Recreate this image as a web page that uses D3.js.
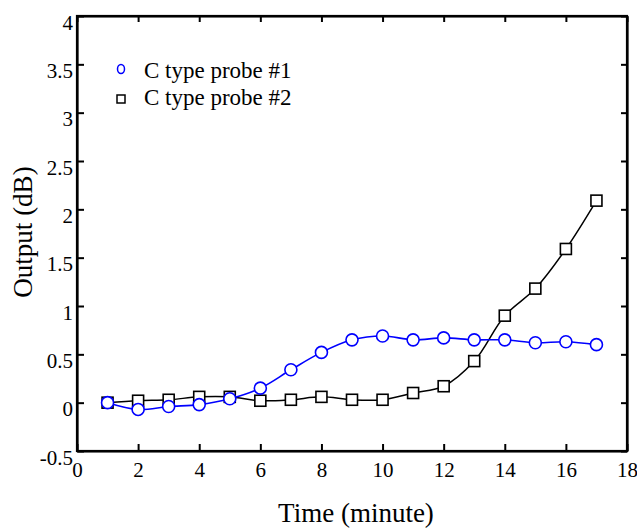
<!DOCTYPE html>
<html>
<head>
<meta charset="utf-8">
<script src="https://cdn.jsdelivr.net/npm/d3@7"></script>
<style>
  html, body { margin: 0; padding: 0; background: #fff; }
  svg { display: block; font-family: "Liberation Serif", "Times New Roman", serif; }
</style>
</head>
<body>
<svg id="chart" width="637" height="529"></svg>
<script>
// Time in minutes
const times = [1, 2, 3, 4, 5, 6, 7, 8, 9, 10, 11, 12, 13, 14, 15, 16, 17];
// Output (dB) for each probe
const probe1 = [0.00, -0.07, -0.04, -0.02, 0.04, 0.15, 0.34, 0.52, 0.65, 0.69, 0.65, 0.67, 0.65, 0.65, 0.62, 0.63, 0.60];
const probe2 = [0.00, 0.02, 0.03, 0.06, 0.06, 0.02, 0.03, 0.06, 0.03, 0.03, 0.10, 0.17, 0.43, 0.90, 1.18, 1.59, 2.09];
const seriesNames = ["C type probe #1", "C type probe #2"];
const xTicks = [0, 2, 4, 6, 8, 10, 12, 14, 16, 18];
const yTicks = [-0.5, 0, 0.5, 1, 1.5, 2, 2.5, 3, 3.5, 4];

const svg = d3.select("#chart");
const plotL = 77, plotR = 627, plotT = 16, plotB = 451;

const x = d3.scaleLinear().domain([0, 18]).range([plotL, plotR]);
const y = d3.scaleLinear().domain([-0.5, 4]).range([plotB, plotT]);

const fmt = d => String(d);

// bottom axis with inward ticks
const gx = svg.append("g").attr("transform", `translate(0,${plotB})`)
  .call(d3.axisBottom(x).tickValues(xTicks).tickSizeInner(-7).tickSizeOuter(0).tickPadding(11).tickFormat(fmt));
// top axis, ticks only
const gxt = svg.append("g").attr("transform", `translate(0,${plotT})`)
  .call(d3.axisTop(x).tickValues(xTicks).tickSizeInner(-6).tickSizeOuter(0).tickFormat(""));
// left axis
const gy = svg.append("g").attr("transform", `translate(${plotL},0)`)
  .call(d3.axisLeft(y).tickValues(yTicks).tickSizeInner(-7).tickSizeOuter(0).tickPadding(4).tickFormat(fmt));
// right axis, ticks only
const gyr = svg.append("g").attr("transform", `translate(${plotR},0)`)
  .call(d3.axisRight(y).tickValues(yTicks).tickSizeInner(-6).tickSizeOuter(0).tickFormat(""));

[gx, gxt, gy, gyr].forEach(g => {
  g.select(".domain").attr("stroke", "#000").attr("stroke-width", 2.2);
  g.selectAll(".tick line").attr("stroke", "#000").attr("stroke-width", 2);
  g.selectAll(".tick text").attr("fill", "#000").attr("font-size", 21)
    .attr("font-family", "Liberation Serif, Times New Roman, serif");
});
gy.selectAll(".tick text").attr("dy", "13");

// plot frame
svg.append("rect").attr("x", plotL).attr("y", plotT).attr("width", plotR - plotL).attr("height", plotB - plotT)
  .attr("fill", "none").attr("stroke", "#000").attr("stroke-width", 2.2);

// axis titles
svg.append("text").attr("x", 356).attr("y", 522).attr("text-anchor", "middle")
  .attr("font-size", 27).text("Time (minute)");
svg.append("text").attr("transform", "translate(32,232) rotate(-90)").attr("text-anchor", "middle")
  .attr("font-size", 27).text("Output (dB)");

const line = d3.line().x((d, i) => x(times[i])).y(d => y(d)).curve(d3.curveCatmullRom.alpha(0.5));

// probe #2 (black squares)
svg.append("path").datum(probe2).attr("d", line).attr("fill", "none").attr("stroke", "#000").attr("stroke-width", 1.5);
// probe #1 (blue circles)
svg.append("path").datum(probe1).attr("d", line).attr("fill", "none").attr("stroke", "#0000ff").attr("stroke-width", 1.6);

const sq = 11;
svg.append("g").selectAll("rect").data(probe2).join("rect")
  .attr("x", (d, i) => x(times[i]) - sq / 2).attr("y", d => y(d) - sq / 2)
  .attr("width", sq).attr("height", sq)
  .attr("fill", "#fff").attr("stroke", "#000").attr("stroke-width", 1.6);

svg.append("g").selectAll("circle").data(probe1).join("circle")
  .attr("cx", (d, i) => x(times[i])).attr("cy", d => y(d)).attr("r", 6)
  .attr("fill", "#fff").attr("stroke", "#0000ff").attr("stroke-width", 1.6);

// legend
const lg = svg.append("g");
lg.append("ellipse").attr("cx", 121).attr("cy", 69).attr("rx", 3.5).attr("ry", 4.5)
  .attr("fill", "none").attr("stroke", "#0000ff").attr("stroke-width", 1.5);
lg.append("rect").attr("x", 117).attr("y", 95).attr("width", 8).attr("height", 8)
  .attr("fill", "none").attr("stroke", "#000").attr("stroke-width", 1.5);
lg.append("text").attr("x", 144).attr("y", 78).attr("font-size", 23).text(seriesNames[0]);
lg.append("text").attr("x", 144).attr("y", 105).attr("font-size", 23).text(seriesNames[1]);
</script>
</body>
</html>
